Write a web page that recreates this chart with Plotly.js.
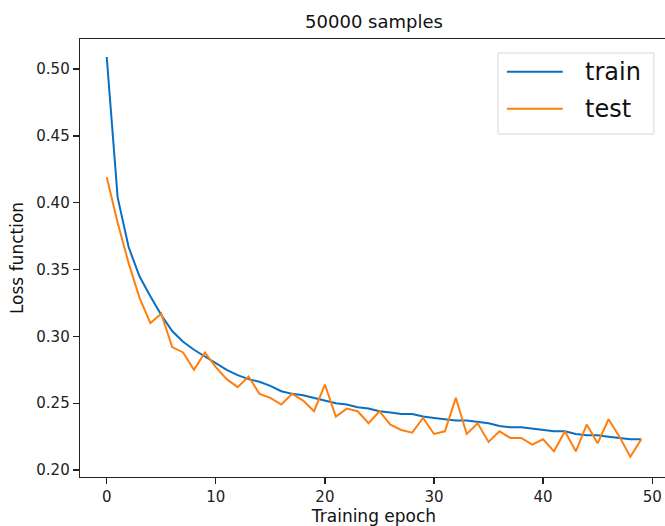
<!DOCTYPE html>
<html>
<head>
<meta charset="utf-8">
<script src="https://cdn.plot.ly/plotly-3.0.1.min.js"></script>
<style>
html, body { margin: 0; padding: 0; overflow: hidden; background: #fff; }
#chart { width: 700px; height: 526px; }
</style>
</head>
<body>
<div id="chart"></div>
<script>
// ---- data ----
const epochs = Array.from({length: 50}, (_, i) => i);
const seriesNames = ["train", "test"];
const trainLoss = [
  0.509, 0.404, 0.367, 0.345, 0.330, 0.316, 0.304, 0.296, 0.290, 0.285,
  0.280, 0.275, 0.271, 0.268, 0.266, 0.263, 0.259, 0.257, 0.256, 0.254,
  0.252, 0.250, 0.249, 0.247, 0.246, 0.244, 0.243, 0.242, 0.242, 0.240,
  0.239, 0.238, 0.237, 0.237, 0.236, 0.235, 0.233, 0.232, 0.232, 0.231,
  0.230, 0.229, 0.229, 0.227, 0.226, 0.226, 0.225, 0.224, 0.223, 0.223
];
const testLoss = [
  0.419, 0.385, 0.355, 0.329, 0.310, 0.317, 0.292, 0.288, 0.275, 0.288,
  0.277, 0.268, 0.262, 0.270, 0.257, 0.254, 0.249, 0.257, 0.252, 0.244,
  0.264, 0.240, 0.246, 0.244, 0.235, 0.244, 0.234, 0.230, 0.228, 0.239,
  0.227, 0.229, 0.254, 0.227, 0.235, 0.221, 0.229, 0.224, 0.224, 0.219,
  0.223, 0.214, 0.229, 0.214, 0.234, 0.220, 0.238, 0.225, 0.210, 0.223
];
const yTicks = [0.20, 0.25, 0.30, 0.35, 0.40, 0.45, 0.50];
const xTicks = [0, 10, 20, 30, 40, 50];
const chartTitle = "50000 samples";
const xLabel = "Training epoch";
const yLabel = "Loss function";

// ---- styling ----
const colors = ["#0a6fc2", "#ff7f0e"];
const FONT = "DejaVu Sans, sans-serif";
const ink = "#222";

const traces = [trainLoss, testLoss].map((ys, k) => ({
  x: epochs, y: ys, type: "scatter", mode: "lines",
  name: seriesNames[k], line: {color: colors[k], width: 2}, showlegend: false
}));

// custom legend (matplotlib-like) in paper coords
const lg = {x0: 0.711, x1: 0.976, y0: 0.783, y1: 0.968};
const rowsY = [0.925, 0.841];
const shapes = [{
  type: "rect", xref: "paper", yref: "paper",
  x0: lg.x0, x1: lg.x1, y0: lg.y0, y1: lg.y1,
  line: {color: "#d6d6d6", width: 1}, fillcolor: "rgba(255,255,255,0.8)"
}];
const annotations = [];
seriesNames.forEach((nm, k) => {
  shapes.push({type: "line", xref: "paper", yref: "paper",
    x0: 0.726, x1: 0.821, y0: rowsY[k], y1: rowsY[k],
    line: {color: colors[k], width: 2}});
  annotations.push({xref: "paper", yref: "paper", x: 0.855, y: rowsY[k],
    xanchor: "left", yanchor: "middle", text: nm, showarrow: false,
    font: {family: FONT, size: 24, color: "#111"}});
});

const layout = {
  width: 700, height: 526,
  margin: {l: 80, r: 32, t: 39, b: 49},
  paper_bgcolor: "#fff", plot_bgcolor: "#fff",
  font: {family: FONT, color: ink},
  title: {text: chartTitle, font: {family: FONT, size: 18, color: "#111"},
          x: 374/700, xanchor: "center", y: 1 - 22/526, yanchor: "middle"},
  xaxis: {
    range: [-2.45, 51.45], tickvals: xTicks, ticktext: xTicks.map(String),
    showgrid: false, zeroline: false, showline: true, mirror: true,
    linecolor: ink, linewidth: 1.3, ticks: "outside", ticklen: 6, tickwidth: 1.2, tickcolor: ink,
    tickfont: {family: FONT, size: 15, color: "#222"},
    title: {text: xLabel, font: {family: FONT, size: 17, color: "#111"}, standoff: 8}
  },
  yaxis: {
    range: [0.1948, 0.5225], tickvals: yTicks, ticktext: yTicks.map(v => v.toFixed(2)),
    showgrid: false, zeroline: false, showline: true, mirror: true,
    linecolor: ink, linewidth: 1.3, ticks: "outside", ticklen: 6, tickwidth: 1.2, tickcolor: ink,
    tickfont: {family: FONT, size: 15, color: "#222"},
    title: {text: yLabel, font: {family: FONT, size: 17, color: "#111"}, standoff: 8}
  },
  shapes: shapes,
  annotations: annotations,
  showlegend: false
};

Plotly.newPlot("chart", traces, layout, {displayModeBar: false, staticPlot: true});
</script>
</body>
</html>
